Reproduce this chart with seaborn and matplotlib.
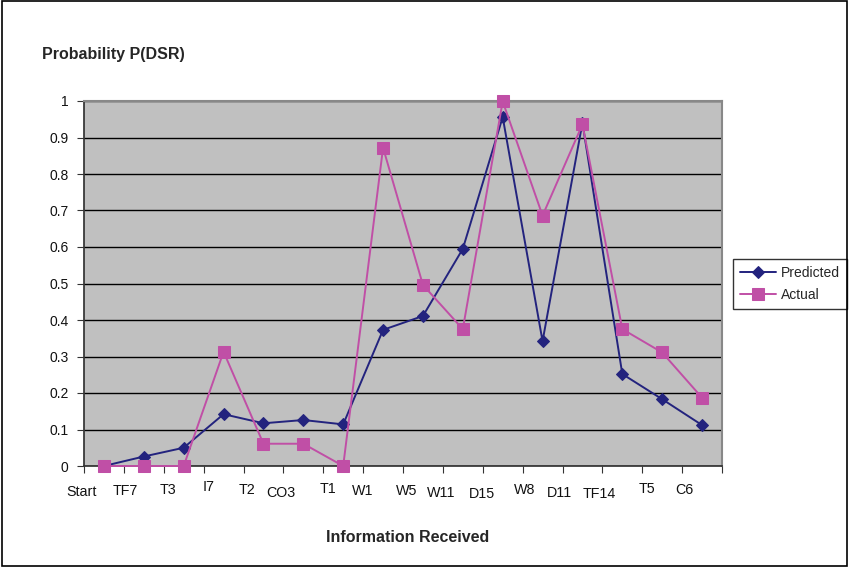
import matplotlib
matplotlib.use("Agg")
import matplotlib.pyplot as plt
import matplotlib.transforms as mtransforms
import numpy as np
import pandas as pd
import seaborn as sns

# information steps along the x axis
steps = ["Start", "TF7", "T3", "I7", "T2", "CO3", "T1", "W1",
         "W5", "W11", "D15", "W8", "D11", "TF14", "T5", "C6"]
predicted = [0.0, 0.026, 0.050, 0.142, 0.117, 0.126, 0.114, 0.373,
             0.411, 0.595, 0.956, 0.342, 0.940, 0.252, 0.183, 0.112]
actual = [0.0, 0.0, 0.0, 0.313, 0.061, 0.061, 0.0, 0.872,
          0.496, 0.375, 0.999, 0.686, 0.936, 0.375, 0.311, 0.187]

# the category labels in the original sit off their points (x shift in steps, y shift in px)
label_dx = [-0.56, -0.47, -0.40, -0.37, -0.40, -0.56, -0.38, -0.50,
            -0.42, -0.55, -0.51, -0.46, -0.58, -0.58, -0.37, -0.45]
label_dy = [0, 1, 2, 5, 2, -1, 3, 1, 1, -1, -2, 2, -1, -2, 3, 2]

df = pd.DataFrame({"pos": np.arange(len(steps)), "Predicted": predicted, "Actual": actual})

sns.set_theme(style="white")
plt.rcParams["font.family"] = ["Liberation Sans", "DejaVu Sans"]

fig = plt.figure(figsize=(8.49, 5.67), dpi=100)
ax = fig.add_axes([84 / 849, 1 - 466 / 567, (722 - 84) / 849, (466 - 101) / 567])
ax.set_facecolor("#C0C0C0")

navy = "#23237E"
pink = "#C04FA6"
sns.lineplot(data=df, x="pos", y="Predicted", ax=ax, color=navy, marker="D",
             markersize=6, markeredgecolor=navy, linewidth=1.4, label="Predicted",
             clip_on=False, zorder=3)
sns.lineplot(data=df, x="pos", y="Actual", ax=ax, color=pink, marker="s",
             markersize=8, markeredgecolor=pink, linewidth=1.4, label="Actual",
             clip_on=False, zorder=4)

ax.set_xlim(-0.5, len(steps) - 0.5)
ax.set_ylim(0, 1)
ax.set_yticks(np.arange(0, 1.01, 0.1))
ax.set_yticklabels(["0", "0.1", "0.2", "0.3", "0.4", "0.5", "0.6", "0.7", "0.8", "0.9", "1"],
                   fontsize=10, color="#111111")
ax.set_xticks(np.arange(-0.5, len(steps), 1.0))
ax.set_xticklabels([])
ax.tick_params(axis="both", which="both", direction="out", length=5, width=0.8,
               color="#333333", left=True, bottom=True, pad=6)
ax.yaxis.grid(True, color="black", linewidth=1.0)
ax.set_axisbelow(True)
for side in ["top", "right"]:
    ax.spines[side].set_color("#888888")
    ax.spines[side].set_linewidth(1.5)
ax.spines["left"].set_color("#333333")
ax.spines["bottom"].set_color("#333333")

ax.set_xlabel("")
ax.set_ylabel("")

trans = mtransforms.blended_transform_factory(ax.transData, fig.transFigure)
for i, name in enumerate(steps):
    ax.text(i + label_dx[i], 1 - (492 - label_dy[i]) / 567, name, transform=trans,
            ha="center", va="center", fontsize=10.3, color="#111111")

fig.text(42 / 849, 1 - 55 / 567, "Probability P(DSR)", fontsize=11.5, weight="bold",
         ha="left", va="center")
fig.text(408 / 849, 1 - 538 / 567, "Information Received", fontsize=11.5, weight="bold",
         ha="center", va="center")

leg = ax.legend(loc="center left", bbox_to_anchor=(733 / 849, 1 - 284 / 567),
                bbox_transform=fig.transFigure, frameon=True, fancybox=False,
                fontsize=10, handlelength=2.6, handletextpad=0.35, borderpad=0.5,
                labelspacing=0.6, borderaxespad=0)
leg.get_frame().set_edgecolor("black")
leg.get_frame().set_linewidth(1.0)

# outer chart border
fig.patches.append(plt.Rectangle((0.002, 0.002), 0.996, 0.996, transform=fig.transFigure,
                                 fill=False, edgecolor="black", linewidth=1.2))

fig.savefig("out.png", dpi=100)
